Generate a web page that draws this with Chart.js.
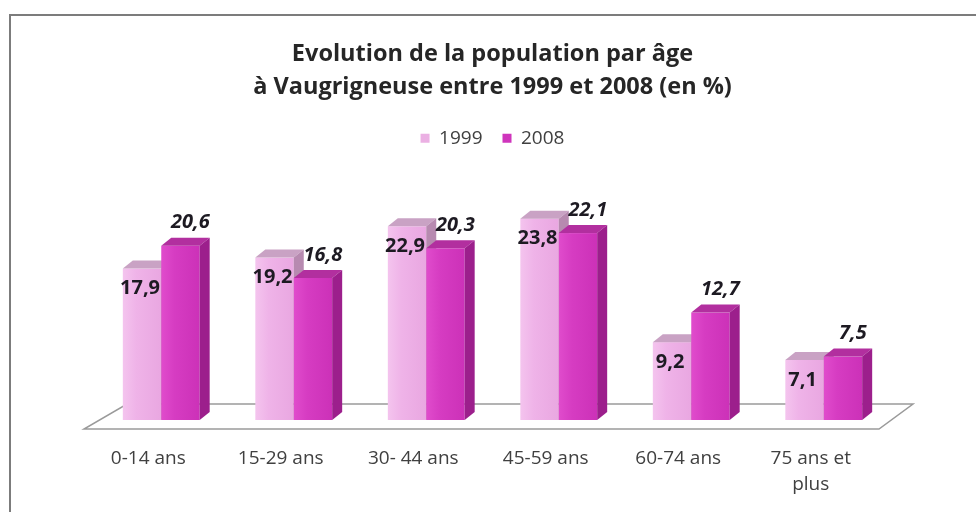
<!DOCTYPE html>
<html lang="fr">
<head>
<meta charset="utf-8">
<title>Population par âge - Vaugrigneuse</title>
<script src="https://cdn.jsdelivr.net/npm/chart.js@4.4.1/dist/chart.umd.min.js"></script>
<style>
    html, body { margin: 0; padding: 0; background: #ffffff; overflow: hidden; }
    #ageChart { display: block; }
</style>
</head>
<body>
<canvas id="ageChart" width="976" height="512"></canvas>
<script>
// Tranches d'âge et pourcentages
const categories = ['0-14 ans', '15-29 ans', '30- 44 ans', '45-59 ans', '60-74 ans', ['75 ans et', 'plus']];
const values1999 = [17.9, 19.2, 22.9, 23.8, 9.2, 7.1];
const values2008 = [20.6, 16.8, 20.3, 22.1, 12.7, 7.5];
const seriesNames = ['1999', '2008'];
const titleLines = ['Evolution de la population par âge', 'à Vaugrigneuse entre 1999 et 2008 (en %)'];

const FONT = "'Open Sans', 'DejaVu Sans', sans-serif";

// couleurs des faces (avant / dessus / côté) pour chaque série
const faces = [
    { front: ['#f4c4ee', '#efb3e8', '#e9a7e1'], top: '#c9a2c4', side: '#b78ab0', legend: '#ebb0e3' },
    { front: ['#e04ccc', '#d63cc2', '#cc31b8'], top: '#b22f9f', side: '#9c1f8c', legend: '#cf35bc' }
];
const DEPTH_X = 10;
const DEPTH_Y = -8;

function fmt(v) {
    return v.toFixed(1).replace('.', ',');
}

// cadre gris en haut et à gauche
const framePlugin = {
    id: 'frame',
    beforeDraw(chart) {
        const ctx = chart.ctx;
        ctx.save();
        ctx.fillStyle = '#ffffff';
        ctx.fillRect(0, 0, chart.width, chart.height);
        ctx.strokeStyle = '#7c7c7c';
        ctx.lineWidth = 2;
        ctx.beginPath();
        ctx.moveTo(10, chart.height);
        ctx.lineTo(10, 15);
        ctx.lineTo(chart.width, 15);
        ctx.stroke();
        ctx.restore();
    }
};

// plancher + barres en relief
const bars3dPlugin = {
    id: 'bars3d',
    beforeDatasetsDraw(chart) {
        const ctx = chart.ctx;
        const xs = chart.scales.x;
        const base = chart.scales.y.getPixelForValue(0);

        ctx.save();
        ctx.strokeStyle = '#9a9a9a';
        ctx.lineWidth = 1.5;
        ctx.beginPath();
        ctx.moveTo(xs.left - 11, base + 9);
        ctx.lineTo(xs.right - 11, base + 9);
        ctx.lineTo(xs.right + 23, base - 16);
        ctx.lineTo(xs.left + 32, base - 16);
        ctx.closePath();
        ctx.fillStyle = '#ffffff';
        ctx.fill();
        ctx.stroke();

        const metas = chart.data.datasets.map((ds, i) => chart.getDatasetMeta(i));
        for (let i = 0; i < categories.length; i++) {
            metas.forEach((meta, d) => {
                const bar = meta.data[i];
                const f = faces[d];
                const l = bar.x - bar.width / 2;
                const r = bar.x + bar.width / 2;
                const t = bar.y;
                const b = bar.base;

                const g = ctx.createLinearGradient(l, 0, r, 0);
                g.addColorStop(0, f.front[0]);
                g.addColorStop(0.35, f.front[1]);
                g.addColorStop(1, f.front[2]);
                ctx.fillStyle = g;
                ctx.fillRect(l, t, r - l, b - t);

                // dessus
                ctx.fillStyle = f.top;
                ctx.beginPath();
                ctx.moveTo(l, t);
                ctx.lineTo(r, t);
                ctx.lineTo(r + DEPTH_X, t + DEPTH_Y);
                ctx.lineTo(l + DEPTH_X, t + DEPTH_Y);
                ctx.closePath();
                ctx.fill();

                // côté droit
                ctx.fillStyle = f.side;
                ctx.beginPath();
                ctx.moveTo(r, t);
                ctx.lineTo(r + DEPTH_X, t + DEPTH_Y);
                ctx.lineTo(r + DEPTH_X, b + DEPTH_Y);
                ctx.lineTo(r, b);
                ctx.closePath();
                ctx.fill();
            });
        }
        ctx.restore();
        return false; // on ne dessine pas les barres plates
    },
    afterDraw(chart) {
        const ctx = chart.ctx;
        ctx.save();
        ctx.fillStyle = '#1d1a22';
        ctx.textAlign = 'center';
        ctx.textBaseline = 'middle';
        chart.data.datasets.forEach((ds, d) => {
            const meta = chart.getDatasetMeta(d);
            meta.data.forEach((bar, i) => {
                if (d === 0) {
                    ctx.font = 'bold 20px ' + FONT;
                    ctx.fillText(fmt(ds.data[i]), bar.x - 2, bar.y + 20);
                } else {
                    ctx.font = 'italic bold 20px ' + FONT;
                    ctx.fillText(fmt(ds.data[i]), bar.x + 10, bar.y - 23);
                }
            });
        });
        ctx.restore();
    }
};

document.addEventListener('DOMContentLoaded', () => {
    const ctx = document.getElementById('ageChart').getContext('2d');

    new Chart(ctx, {
        type: 'bar',
        data: {
            labels: categories,
            datasets: [
                { label: seriesNames[0], data: values1999, backgroundColor: faces[0].legend },
                { label: seriesNames[1], data: values2008, backgroundColor: faces[1].legend }
            ]
        },
        options: {
            responsive: false,
            animation: false,
            layout: { padding: { left: 95, right: 86, top: 0, bottom: 0 } },
            datasets: {
                bar: { categoryPercentage: 0.58, barPercentage: 1.0 }
            },
            scales: {
                x: {
                    grid: { display: false, drawTicks: false },
                    border: { display: false },
                    ticks: {
                        color: '#404040',
                        padding: 25,
                        labelOffset: -13,
                        maxRotation: 0,
                        autoSkip: false,
                        font: { family: FONT, size: 19, lineHeight: 1.4 }
                    },
                    afterFit: scale => { scale.height = 92; }
                },
                y: {
                    display: false,
                    min: 0,
                    max: 31
                }
            },
            plugins: {
                title: {
                    display: true,
                    text: titleLines,
                    color: '#262626',
                    font: { family: FONT, size: 23.5, weight: 'bold', lineHeight: 1.4 },
                    padding: { top: 38, bottom: 5 }
                },
                legend: {
                    display: true,
                    position: 'top',
                    labels: {
                        color: '#404040',
                        boxWidth: 9,
                        boxHeight: 9,
                        padding: 20,
                        font: { family: FONT, size: 19 }
                    }
                },
                tooltip: { enabled: false }
            }
        },
        plugins: [framePlugin, bars3dPlugin]
    });
});
</script>
</body>
</html>
